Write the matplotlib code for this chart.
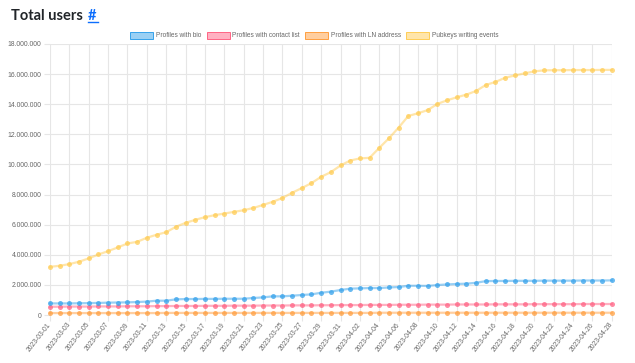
import matplotlib
matplotlib.use("Agg")
import matplotlib.pyplot as plt
from matplotlib.ticker import FuncFormatter, FixedLocator
from matplotlib.patches import Rectangle
from matplotlib.lines import Line2D
import pandas as pd

dates = pd.date_range("2023-03-01", "2023-04-28", freq="D").strftime("%Y-%m-%d").tolist()

series_names = ["Profiles with bio", "Profiles with contact list",
                "Profiles with LN address", "Pubkeys writing events"]

bio = [0.77, 0.77, 0.77, 0.78, 0.79, 0.80, 0.82, 0.83, 0.84, 0.86,
       0.89, 0.95, 0.95, 1.04, 1.06, 1.06, 1.07, 1.07, 1.08, 1.08,
       1.08, 1.13, 1.17, 1.24, 1.24, 1.28, 1.33, 1.37, 1.48, 1.55,
       1.66,
       1.75, 1.77, 1.79, 1.79, 1.83, 1.86, 1.94, 1.94, 1.93, 1.99,
       2.03, 2.06, 2.08, 2.14, 2.25, 2.26, 2.26, 2.27, 2.27, 2.27,
       2.28, 2.28, 2.28, 2.28, 2.29, 2.29, 2.29, 2.30]
contact = [0.55, 0.55, 0.56, 0.56, 0.56, 0.57, 0.57, 0.57, 0.58, 0.58,
           0.58, 0.59, 0.59, 0.60, 0.60, 0.60, 0.61, 0.61, 0.61, 0.62,
           0.62, 0.62, 0.63, 0.63, 0.63, 0.64, 0.64, 0.64, 0.65, 0.65,
           0.66,
           0.66, 0.66, 0.67, 0.67, 0.67, 0.68, 0.68, 0.68, 0.69, 0.69,
           0.69, 0.70, 0.70, 0.70, 0.70, 0.71, 0.71, 0.71, 0.71, 0.72,
           0.72, 0.72, 0.72, 0.72, 0.73, 0.73, 0.73, 0.73]
ln_address = [0.13, 0.13, 0.13, 0.13, 0.13, 0.13, 0.13, 0.13, 0.13, 0.13,
              0.13, 0.13, 0.14, 0.14, 0.14, 0.14, 0.14, 0.14, 0.14, 0.14,
              0.14, 0.14, 0.14, 0.14, 0.14, 0.14, 0.14, 0.14, 0.14, 0.14,
              0.14,
              0.14, 0.14, 0.14, 0.15, 0.15, 0.15, 0.15, 0.15, 0.15, 0.15,
              0.15, 0.15, 0.15, 0.15, 0.15, 0.15, 0.15, 0.15, 0.15, 0.15,
              0.15, 0.15, 0.15, 0.15, 0.15, 0.15, 0.15, 0.15]
pubkeys = [3.20, 3.27, 3.38, 3.54, 3.76, 4.02, 4.24, 4.49, 4.75, 4.86,
           5.13, 5.33, 5.50, 5.86, 6.12, 6.32, 6.50, 6.63, 6.74, 6.85,
           6.96, 7.11, 7.31, 7.52, 7.77, 8.12, 8.43, 8.76, 9.18, 9.49,
           9.93,
           10.26, 10.40, 10.44, 11.10, 11.74, 12.45, 13.22, 13.40, 13.61, 14.02,
           14.26, 14.46, 14.64, 14.88, 15.28, 15.48, 15.76, 15.91, 16.05, 16.18,
           16.25, 16.26, 16.26, 16.27, 16.27, 16.27, 16.28, 16.28]

y_ticks = [0, 2e6, 4e6, 6e6, 8e6, 10e6, 12e6, 14e6, 16e6, 18e6]

all_series = [bio, contact, ln_address, pubkeys]
colors = [(54/255, 162/255, 235/255), (255/255, 99/255, 132/255),
          (255/255, 159/255, 64/255), (255/255, 205/255, 86/255)]

W, H = 635, 363
fig = plt.figure(figsize=(W/100, H/100), dpi=100)
fig.patch.set_facecolor("white")

left, right, top, bottom = 50, 611.7, 44, 315
ax = fig.add_axes([left/W, 1-bottom/H, (right-left)/W, (bottom-top)/H])

x = list(range(len(dates)))
for vals, c in list(zip(all_series, colors))[::-1]:
    yv = [v*1e6 for v in vals]
    ax.plot(x, yv, color=c + (0.5,), lw=1.6, zorder=3, clip_on=False)
    ax.plot(x, yv, ls="none", marker="o", ms=3.6, mfc=c + (0.75,),
            mec=c + (0.0,), mew=0, zorder=4, clip_on=False)

ax.set_xlim(0, len(dates)-1)
ax.set_ylim(0, 18e6)
ax.yaxis.set_major_locator(FixedLocator(y_ticks))
ax.yaxis.set_major_formatter(FuncFormatter(lambda v, p: f"{int(v):,}".replace(",", ".")))
xt = list(range(0, len(dates), 2))
ax.set_xticks(xt)
ax.set_xticklabels([dates[i] for i in xt], rotation=52, ha="right",
                   rotation_mode="anchor", va="center")

gridc = "#e6e6e6"
ax.grid(True, color=gridc, lw=0.8, zorder=0)
for s in ax.spines.values():
    s.set_visible(False)
ax.tick_params(axis="both", colors=gridc, length=4, width=0.8,
               labelcolor="#666666", labelsize=4.9, pad=2)
for lab in ax.get_xticklabels() + ax.get_yticklabels():
    lab.set_fontfamily("Liberation Sans")
ax.set_facecolor("white")

# Title: size it so "Total users" spans ~71 px like the reference
title = fig.text(11/W, 1-20/H, "Total users", fontsize=11, fontweight="bold",
                 family="Lato", color="#212529", va="baseline", ha="left")
fig.canvas.draw()
w = title.get_window_extent().width
title.set_fontsize(11 * 71.5 / w)
fig.text(88/W, 1-20/H, "#", fontsize=title.get_fontsize(), fontweight="bold",
         family="Lato", color="#0d6efd", va="baseline", ha="left")
fig.add_artist(Line2D([88/W, 97.5/W], [1-21.5/H, 1-21.5/H], color="#0d6efd", lw=1.0))

# Legend (manual, centered)
box_x = [130, 207, 305, 406]
text_x = [156, 232, 331, 432]
for bx, tx, c, name in zip(box_x, text_x, colors, series_names):
    fig.add_artist(Rectangle((bx/W, 1-39/H), 22.5/W, 6.5/H, transform=fig.transFigure,
                             facecolor=c + (0.5,), edgecolor=c, lw=0.7))
    fig.text(tx/W, 1-35.5/H, name, fontsize=4.7, family="Liberation Sans",
             color="#666666", va="center", ha="left")

fig.savefig("out.png", dpi=100)
